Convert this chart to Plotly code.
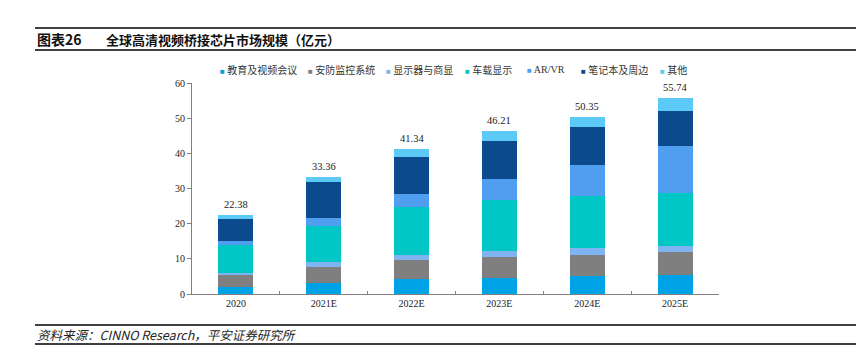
import plotly.graph_objects as go

categories = ["2020", "2021E", "2022E", "2023E", "2024E", "2025E"]
series_names = ["教育及视频会议", "安防监控系统", "显示器与商显", "车载显示", "AR/VR", "笔记本及周边", "其他"]
edu = [1.9, 3.0, 4.3, 4.5, 5.0, 5.5]
security = [3.4, 4.8, 5.4, 6.1, 6.2, 6.35]
display = [0.8, 1.3, 1.5, 1.7, 1.9, 1.85]
car = [7.9, 10.1, 13.4, 14.4, 14.7, 15.0]
arvr = [1.0, 2.4, 3.8, 6.1, 9.0, 13.3]
notebook = [6.4, 10.2, 10.7, 10.8, 10.6, 10.1]
other = [0.98, 1.56, 2.24, 2.61, 2.95, 3.64]
totals = [22.38, 33.36, 41.34, 46.21, 50.35, 55.74]
y_ticks = [0, 10, 20, 30, 40, 50, 60]

values = [edu, security, display, car, arvr, notebook, other]
colors = ["#00a2e6", "#7f7f7f", "#7fb3f2", "#00c6c6", "#4f9ef0", "#0b4a8c", "#5cc9f6"]

FONT = "'Liberation Serif', 'Noto Sans CJK SC', serif"
CJK = "'Noto Sans CJK SC', sans-serif"

fig = go.Figure()
for name, vals, col in zip(series_names, values, colors):
    fig.add_trace(go.Bar(x=categories, y=vals, name=name, marker=dict(color=col, line=dict(width=0)),
                         showlegend=False))

L, R, T, B = 184, 711, 75, 286
W, H = R - L, B - T

def px(x):
    return (x - L) / W

def py(y):
    return (B - y) / H

annotations = []
for i, t in enumerate(totals):
    annotations.append(dict(x=i, y=t, xref="x", yref="y", text=f"{t:.2f}", showarrow=False,
                            yanchor="bottom", yshift=3, font=dict(family=FONT, size=10.5, color="#222")))

# legend drawn as text items
legend_x = [210, 298, 376, 455, 517, 571, 650]
for name, col, lx in zip(series_names, colors, legend_x):
    annotations.append(dict(x=px(lx), y=py(62), xref="paper", yref="paper", xanchor="left", yanchor="middle",
                            showarrow=False,
                            text=f"<span style='color:{col};font-size:8px'>■</span> {name}",
                            font=dict(family=FONT, size=10, color="#333")))

annotations.append(dict(x=px(27), y=py(31), xref="paper", yref="paper", xanchor="left", yanchor="middle",
                        showarrow=False, text="<b>图表26</b>", font=dict(family=CJK, size=14, color="#111")))
annotations.append(dict(x=px(96), y=py(31), xref="paper", yref="paper", xanchor="left", yanchor="middle",
                        showarrow=False, text="<b>全球高清视频桥接芯片市场规模（亿元）</b>",
                        font=dict(family=CJK, size=13, color="#111")))
annotations.append(dict(x=px(27), y=py(326), xref="paper", yref="paper", xanchor="left", yanchor="middle",
                        showarrow=False, text="<i>资料来源：CINNO Research，平安证券研究所</i>",
                        font=dict(family=CJK, size=12.5, color="#222")))

shapes = []
for yy, w in [(20, 1.5), (42, 1.5), (317, 1.5), (336, 1.5)]:
    shapes.append(dict(type="line", xref="paper", yref="paper", x0=px(27), x1=px(858), y0=py(yy), y1=py(yy),
                       line=dict(color="#000", width=w)))

fig.update_layout(
    width=864, height=360,
    margin=dict(l=L, r=864 - R, t=T, b=360 - B),
    barmode="stack", bargap=0.6,
    plot_bgcolor="white", paper_bgcolor="white",
    annotations=annotations, shapes=shapes,
    xaxis=dict(type="category", range=[-0.5, len(categories) - 0.5], showline=True, linecolor="#808080",
               linewidth=1, ticks="inside", ticklen=3, tickcolor="#808080", tickson="boundaries",
               tickfont=dict(family=FONT, size=10, color="#222"), showgrid=False, tickangle=0),
    yaxis=dict(range=[0, 60], tickvals=y_ticks, showline=True, linecolor="#808080", linewidth=1,
               ticks="outside", ticklen=4, tickcolor="#808080", showgrid=False, zeroline=False,
               tickfont=dict(family=FONT, size=10, color="#222")),
)

fig.write_html("out.html")
